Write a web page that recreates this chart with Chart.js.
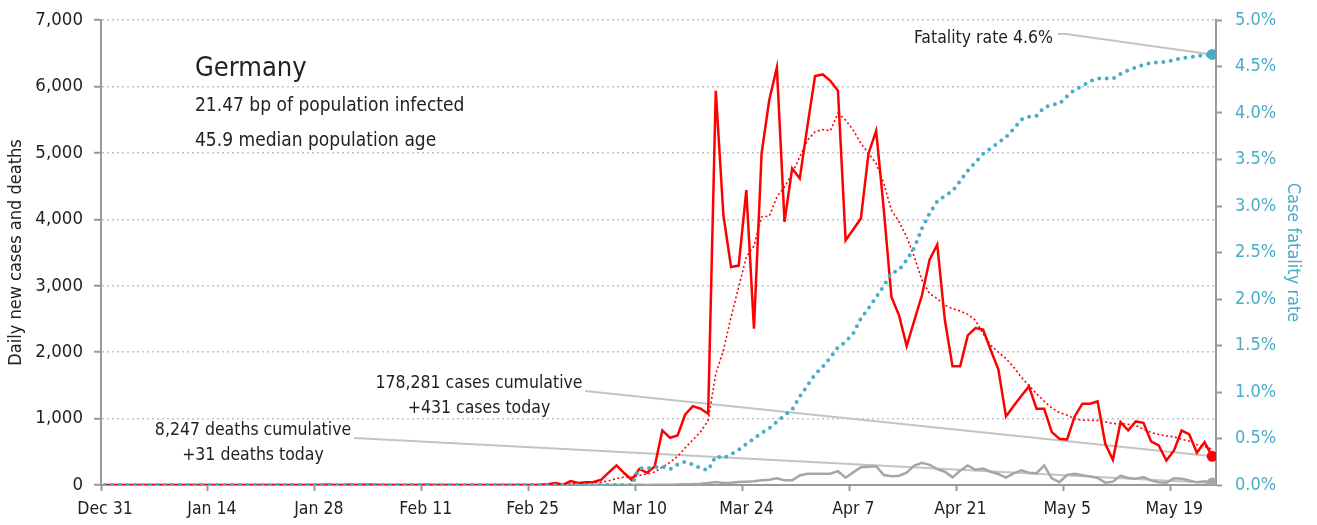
<!DOCTYPE html>
<html>
<head>
<meta charset="utf-8">
<script src="https://cdn.jsdelivr.net/npm/chart.js@4.4.0/dist/chart.umd.min.js"></script>
<style>
  html, body { margin: 0; padding: 0; background: #fff; }
  #wrap { width: 1317px; height: 525px; position: relative; }
</style>
</head>
<body>
<div id="wrap"><canvas id="chart"></canvas></div>
<script>
// x axis: day number counted from Dec 31
const tickDays = [0, 14, 28, 42, 56, 70, 84, 98, 112, 126, 140];
const tickLabels = ['Dec 31', 'Jan 14', 'Jan 28', 'Feb 11', 'Feb 25', 'Mar 10', 'Mar 24', 'Apr 7', 'Apr 21', 'May 5', 'May 19'];

// one value per day, Dec 31 .. May 24
const dailyCases = [
  0,0,0,0,0,0,0,0,0,0,
  0,0,0,0,0,0,0,0,0,0,
  0,0,0,0,0,0,0,0,1,3,
  0,1,3,0,2,2,0,0,1,0,
  0,0,2,0,0,0,0,0,0,0,
  0,0,0,0,0,0,0,2,10,30,
  5,60,30,40,45,80,190,295,180,75,
  244,184,279,821,711,746,1062,1188,1148,1073,
  5934,4061,3282,3303,4438,2353,4991,5794,6287,3961,
  4765,4614,5402,6156,6181,6085,5934,3684,3845,4011,
  4991,5332,4150,2830,2554,2092,2479,2856,3393,3620,
  2479,1786,1786,2253,2363,2339,2032,1741,1032,1190,
  1340,1484,1148,1148,796,697,686,1032,1224,1224,
  1258,621,380,946,821,957,937,656,595,369,
  520,821,761,485,645,431
];
const casesAvg = [
  0,0,0,0,0,0,0,0,0,0,
  0,0,0,0,0,0,0,0,0,0,
  0,0,0,0,0,0,0,0,0,1,
  1,1,1,1,2,2,1,1,1,1,
  0,0,1,0,0,0,0,0,0,0,
  0,0,0,0,0,0,0,2,4,8,
  9,17,21,26,34,42,65,100,118,120,
  145,165,195,270,340,430,560,680,800,972,
  1676,2027,2529,2981,3433,3600,4036,4046,4337,4488,
  4690,4940,5191,5317,5352,5332,5594,5493,5342,5142,
  4991,4840,4539,4137,3960,3734,3433,3082,2881,2806,
  2705,2655,2619,2569,2479,2279,2102,2001,1902,1775,
  1624,1499,1374,1260,1160,1090,1050,997,975,975,
  972,950,925,922,915,897,840,790,761,740,
  725,690,660,610,580,540
];
const dailyDeaths = [
  0,0,0,0,0,0,0,0,0,0,
  0,0,0,0,0,0,0,0,0,0,
  0,0,0,0,0,0,0,0,0,0,
  0,0,0,0,0,0,0,0,0,0,
  0,0,0,0,0,0,0,0,0,0,
  0,0,0,0,0,0,0,0,0,0,
  0,0,0,0,0,0,0,0,0,0,
  2,0,3,4,2,8,12,14,20,30,
  45,30,33,45,50,55,70,80,100,70,
  70,143,169,169,169,170,208,110,190,268,
  276,283,150,133,140,184,294,333,304,240,
  200,115,215,295,230,246,200,165,110,175,
  220,185,178,294,100,42,150,170,147,130,
  105,35,50,140,105,93,118,68,42,35,
  100,93,68,40,55,31
];
// case fatality rate, percent
const fatalityRate = [
  0,0,0,0,0,0,0,0,0,0,
  0,0,0,0,0,0,0,0,0,0,
  0,0,0,0,0,0,0,0,0,0,
  0,0,0,0,0,0,0,0,0,0,
  0,0,0,0,0,0,0,0,0,0,
  0,0,0,0,0,0,0,0,0,0,
  0,0,0,0,0,0,0,0,0,0,
  0.18,0.18,0.19,0.20,0.17,0.22,0.25,0.22,0.18,0.16,
  0.31,0.29,0.33,0.38,0.44,0.50,0.56,0.61,0.68,0.75,
  0.81,0.95,1.07,1.19,1.27,1.37,1.48,1.54,1.63,1.79,
  1.90,2.02,2.14,2.28,2.31,2.42,2.55,2.76,2.92,3.05,
  3.11,3.16,3.27,3.38,3.47,3.56,3.62,3.68,3.74,3.83,
  3.93,3.96,3.97,4.06,4.09,4.10,4.18,4.25,4.29,4.34,
  4.37,4.37,4.37,4.42,4.46,4.49,4.52,4.54,4.545,4.55,
  4.57,4.59,4.60,4.61,4.62,4.63
];

const FONT = "'DejaVu Sans Condensed', 'Liberation Sans Narrow', 'Roboto', sans-serif";
const RED = '#ff0000', BLUE = '#4bacc6', GREY = '#a6a6a6', INK = '#222';
const last = dailyCases.length - 1;
const pts = arr => arr.map((v, i) => ({ x: i + 0.5, y: v }));
const endDot = r => ctx => ctx.dataIndex === last ? r : 0;
// fixed side width; drop the label padding so the plot top stays at 20px
const fixSide = s => { s.width = 101; s.paddingTop = 0; s.paddingBottom = 0; };

const notes = {
  id: 'notes',
  beforeDatasetsDraw(chart) {
    const { ctx, scales: { x, y, y1 } } = chart;
    const ex = x.getPixelForValue(last + 0.5);
    ctx.save();
    ctx.strokeStyle = '#c4c4c4';
    ctx.lineWidth = 2;
    ctx.beginPath();
    ctx.moveTo(585, 391);
    ctx.lineTo(ex, y.getPixelForValue(dailyCases[last]));
    ctx.moveTo(354, 438);
    ctx.lineTo(ex, y.getPixelForValue(dailyDeaths[last]));
    ctx.moveTo(1058, 34);
    ctx.lineTo(1066, 34);
    ctx.lineTo(ex, y1.getPixelForValue(fatalityRate[last]));
    ctx.stroke();
    ctx.restore();
  },
  afterDraw(chart) {
    const ctx = chart.ctx;
    ctx.save();
    ctx.fillStyle = INK;
    ctx.textBaseline = 'alphabetic';
    ctx.textAlign = 'left';
    ctx.font = '27px ' + FONT;
    ctx.fillText('Germany', 195, 76);
    ctx.font = '19px ' + FONT;
    ctx.fillText('21.47 bp of population infected', 195, 111);
    ctx.fillText('45.9 median population age', 195, 146);
    ctx.font = '17.5px ' + FONT;
    ctx.textAlign = 'center';
    ctx.fillText('178,281 cases cumulative', 479, 388);
    ctx.fillText('+431 cases today', 479, 413);
    ctx.fillText('8,247 deaths cumulative', 253, 435);
    ctx.fillText('+31 deaths today', 253, 460);
    ctx.textAlign = 'right';
    ctx.fillText('Fatality rate 4.6%', 1053, 43);
    ctx.restore();
  }
};

new Chart(document.getElementById('chart'), {
  type: 'line',
  data: {
    datasets: [
      {
        label: 'Case fatality rate', data: pts(fatalityRate), yAxisID: 'y1', order: 0,
        borderColor: BLUE, borderWidth: 4, borderDash: [0, 7.5], borderCapStyle: 'round',
        pointRadius: endDot(5.5), pointBackgroundColor: BLUE, pointBorderWidth: 0
      },
      {
        label: 'Daily new cases', data: pts(dailyCases), yAxisID: 'y', order: 1,
        borderColor: RED, borderWidth: 2.5,
        pointRadius: endDot(5.5), pointBackgroundColor: RED, pointBorderWidth: 0
      },
      {
        label: '7-day average', data: pts(casesAvg), yAxisID: 'y', order: 2,
        borderColor: RED, borderWidth: 1.6, borderDash: [2, 2.5], pointRadius: 0
      },
      {
        label: 'Daily deaths', data: pts(dailyDeaths), yAxisID: 'y', order: 3,
        borderColor: GREY, borderWidth: 2.5,
        pointRadius: endDot(5.5), pointBackgroundColor: GREY, pointBorderWidth: 0
      }
    ]
  },
  options: {
    responsive: true,
    maintainAspectRatio: false,
    animation: false,
    layout: { padding: { top: 20, left: 0, right: 0, bottom: 0 } },
    plugins: { legend: { display: false }, tooltip: { enabled: false } },
    elements: { line: { tension: 0 } },
    scales: {
      x: {
        type: 'linear', min: 0, max: 146,
        afterBuildTicks: s => { s.ticks = tickDays.map(v => ({ value: v })); },
        afterFit: s => { s.height = 40; },
        ticks: {
          callback: v => tickLabels[tickDays.indexOf(v)],
          font: { family: FONT, size: 17.5 }, color: INK,
          padding: 8, labelOffset: 4, maxRotation: 0, autoSkip: false
        },
        grid: { drawOnChartArea: false, drawTicks: true, tickLength: 6, tickColor: '#999', tickWidth: 2 },
        border: { display: true, color: '#999', width: 2 }
      },
      y: {
        position: 'left', min: 0, max: 7000,
        afterFit: fixSide,
        ticks: {
          stepSize: 1000, callback: v => v.toLocaleString('en-US'),
          font: { family: FONT, size: 18.5 }, color: INK, padding: 11
        },
        grid: {
          color: '#c4c4c4', lineWidth: 1.5, tickLength: 7,
          tickColor: '#999', tickWidth: 2, tickBorderDash: []
        },
        border: { display: true, color: '#999', width: 2, dash: [2, 3] },
        title: {
          display: true, text: 'Daily new cases and deaths', color: INK,
          font: { family: FONT, size: 18 }, padding: { top: 6, bottom: 0 }
        }
      },
      y1: {
        position: 'right', min: 0, max: 5,
        afterFit: fixSide,
        ticks: {
          stepSize: 0.5, callback: v => v.toFixed(1) + '%',
          font: { family: FONT, size: 18 }, color: BLUE, padding: 13
        },
        grid: { drawOnChartArea: false, tickLength: 6, tickColor: '#999', tickWidth: 2 },
        border: { display: true, color: '#999', width: 2 },
        title: {
          display: true, text: 'Case fatality rate', color: BLUE,
          font: { family: FONT, size: 18 }, padding: { top: 14, bottom: 0 }
        }
      }
    }
  },
  plugins: [notes]
});
</script>
</body>
</html>
